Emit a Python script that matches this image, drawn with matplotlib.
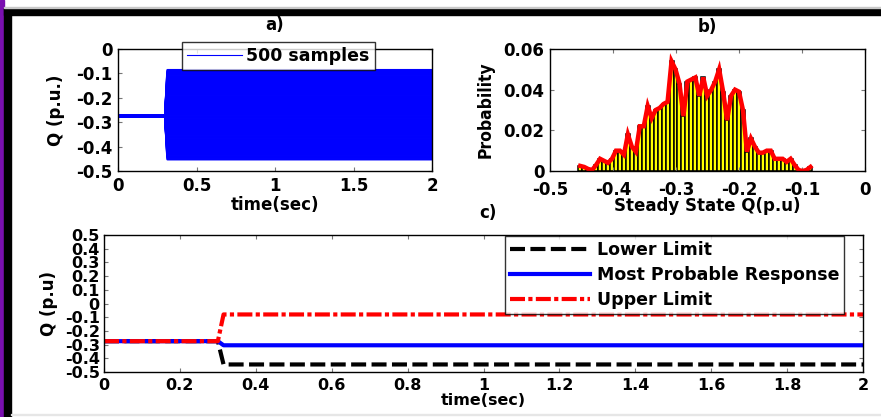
import numpy as np
import matplotlib
matplotlib.use("Agg")
import matplotlib.pyplot as plt
from matplotlib.patches import Rectangle

# ---------------- data ----------------
# histogram of steady-state Q (bin centres start, bin width) and probabilities
bin_start = -0.452
bin_width = 0.0063
prob = [0.0025, 0.002, 0.001, 0.0005, 0.003, 0.006, 0.005, 0.004, 0.006, 0.010,
        0.010, 0.008, 0.018, 0.012, 0.0095, 0.022, 0.022, 0.032, 0.026, 0.030,
        0.031, 0.033, 0.034, 0.054, 0.050, 0.043, 0.027, 0.044, 0.045, 0.046,
        0.037, 0.046, 0.037, 0.040, 0.044, 0.050, 0.039, 0.025, 0.037, 0.040,
        0.039, 0.030, 0.0095, 0.016, 0.012, 0.009, 0.009, 0.010, 0.010, 0.006,
        0.006, 0.006, 0.0045, 0.006, 0.003, 0.0005, 0.0, 0.0005, 0.002]
bin_centers = bin_start + bin_width * np.arange(len(prob))

q_initial = -0.275
t_step = 0.30
t_settle = 0.315
t_end = 2.0

lower_limit = -0.445
most_probable = -0.305
upper_limit = -0.08

# ---------------- figure ----------------
fig = plt.figure(figsize=(8.81, 4.17), dpi=100)
W, H = 881, 417

def px_axes(l, t, r, b):
    return fig.add_axes([l / W, 1 - b / H, (r - l) / W, (b - t) / H])

# decorative frame
fig.patches.append(Rectangle((0, 0), 4 / W, 1, transform=fig.transFigure,
                             color="#7a10b0", zorder=0))
fig.patches.append(Rectangle((4 / W, 0), 7 / W, 1 - 8 / H, transform=fig.transFigure,
                             color="black", zorder=0))
fig.patches.append(Rectangle((4 / W, 1 - 15 / H), 1 - 4 / W, 7 / H, transform=fig.transFigure,
                             color="black", zorder=0))
fig.patches.append(Rectangle((4 / W, 1 - 8 / H), 1 - 4 / W, 1.5 / H, transform=fig.transFigure,
                             color="#c8c8c8", zorder=0))
fig.patches.append(Rectangle((11 / W, 2 / H), 1 - 11 / W, 1.2 / H, transform=fig.transFigure,
                             color="#e6e6e6", zorder=0))

bold = dict(fontweight="bold")
tick_fs = 12
lab_fs = 12


def style(ax, labelsize=tick_fs):
    ax.tick_params(direction="in", top=True, right=True, length=3,
                   color="#777777", labelsize=labelsize, pad=4)
    for lbl in ax.get_xticklabels() + ax.get_yticklabels():
        lbl.set_fontweight("bold")
    for s in ax.spines.values():
        s.set_linewidth(1.0)


# ---- panel a ----
axa = px_axes(118, 49, 432, 171)
t = [0, t_step, t_settle, t_end]
first = True
for v in bin_centers:
    axa.plot(t, [q_initial, q_initial, v, v], color="blue", lw=1.7,
             label="500 samples" if first else None)
    first = False
axa.set_xlim(0, 2)
axa.set_ylim(-0.5, 0)
axa.set_xticks([0, 0.5, 1, 1.5, 2])
axa.set_xticklabels(["0", "0.5", "1", "1.5", "2"])
axa.set_yticks([-0.5, -0.4, -0.3, -0.2, -0.1, 0])
axa.set_yticklabels(["-0.5", "-0.4", "-0.3", "-0.2", "-0.1", "0"])
style(axa)
axa.set_xlabel("time(sec)", fontsize=lab_fs, labelpad=1, **bold)
axa.set_ylabel("Q (p.u.)", fontsize=lab_fs, labelpad=8, **bold)
axa.set_title("a)", fontsize=lab_fs, pad=14, **bold)
lega = axa.legend(loc="upper center", bbox_to_anchor=(0.51, 1.13),
                  frameon=True, fancybox=False, edgecolor="black", borderpad=0.3,
                  handlelength=3.2, handletextpad=0.2, prop=dict(weight="bold", size=12.5))
lega.get_frame().set_linewidth(1.0)
lega.get_lines()[0].set_linewidth(0.8)

# ---- panel b ----
axb = px_axes(550, 49, 865, 171)
axb.bar(bin_centers, prob, width=bin_width, color="yellow", edgecolor="black", lw=1.1)
axb.plot(bin_centers, prob, color="red", lw=3.2, solid_joinstyle="miter")
axb.set_xlim(-0.5, 0)
axb.set_ylim(0, 0.06)
axb.set_xticks([-0.5, -0.4, -0.3, -0.2, -0.1, 0])
axb.set_xticklabels(["-0.5", "-0.4", "-0.3", "-0.2", "-0.1", "0"])
axb.set_yticks([0, 0.02, 0.04, 0.06])
axb.set_yticklabels(["0", "0.02", "0.04", "0.06"])
style(axb)
axb.tick_params(axis="x", pad=7)
axb.set_xlabel("Steady State Q(p.u)", fontsize=lab_fs, labelpad=-1, **bold)
axb.set_ylabel("Probability", fontsize=12.5, labelpad=6, fontstretch="condensed",
               fontweight="semibold", family=["Liberation Sans Narrow", "DejaVu Sans"])
axb.set_title("b)", fontsize=lab_fs, pad=12, **bold)

# ---- panel c ----
axc = px_axes(104, 235, 863, 372)
tc = [0, t_step, t_settle, t_end]
axc.plot(tc, [q_initial, q_initial, lower_limit, lower_limit], color="black",
         lw=3, ls=(0, (3.6, 1.3)), label="Lower Limit")
axc.plot(tc, [q_initial, q_initial, most_probable, most_probable], color="blue",
         lw=3, label="Most Probable Response")
axc.plot(tc, [q_initial, q_initial, upper_limit, upper_limit], color="red",
         lw=3, ls=(0, (3.6, 0.8, 1, 0.8)), label="Upper Limit")
axc.set_xlim(0, 2)
axc.set_ylim(-0.5, 0.5)
xt = [0, 0.2, 0.4, 0.6, 0.8, 1, 1.2, 1.4, 1.6, 1.8, 2]
axc.set_xticks(xt)
axc.set_xticklabels(["0", "0.2", "0.4", "0.6", "0.8", "1", "1.2", "1.4", "1.6", "1.8", "2"])
yt = [-0.5, -0.4, -0.3, -0.2, -0.1, 0, 0.1, 0.2, 0.3, 0.4, 0.5]
axc.set_yticks(yt)
axc.set_yticklabels(["-0.5", "-0.4", "-0.3", "-0.2", "-0.1", "0", "0.1", "0.2", "0.3", "0.4", "0.5"])
style(axc)
axc.tick_params(axis="y", labelsize=11.5, pad=3)
axc.tick_params(axis="x", labelsize=11.5, pad=4)
for lbl in axc.get_yticklabels() + axc.get_xticklabels():
    lbl.set_fontweight("bold")
axc.set_xlabel("time(sec)", fontsize=11.5, labelpad=0, **bold)
axc.set_ylabel("Q (p.u)", fontsize=lab_fs, labelpad=5, **bold)
fig.text(488 / W, 1 - 213 / H, "c)", ha="center", va="center", fontsize=lab_fs, **bold)
legc = axc.legend(loc="upper right", bbox_to_anchor=(0.987, 1.055), frameon=True,
                  fancybox=False, edgecolor="black", borderpad=0.3, labelspacing=0.4,
                  handlelength=4.6, handletextpad=0.4, prop=dict(weight="bold", size=12.5))
legc.get_frame().set_linewidth(1.0)

fig.savefig("out.png", dpi=100)
